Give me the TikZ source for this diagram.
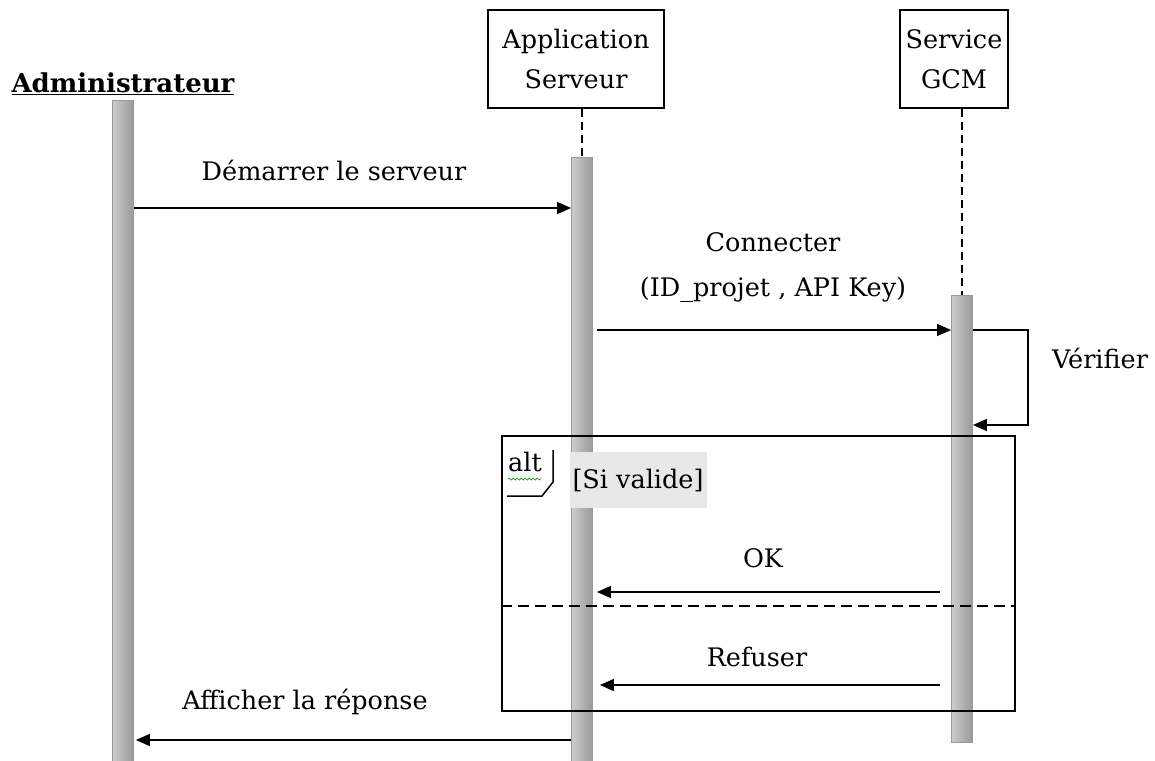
\documentclass[tikz,border=0pt]{standalone}
\usepackage{fontspec}
\setmainfont{DejaVu Serif}
\usetikzlibrary{positioning,arrows.meta,decorations.pathmorphing}

\tikzset{
    txt/.style={font=\fontsize{25.5}{40}\selectfont, inner sep=0pt},
    actor/.style={draw, line width=1.6pt, minimum height=98pt, align=center, txt},
    lifebar/.style={draw=gray!80, line width=0.8pt, minimum width=21pt, inner sep=0pt,
        left color=gray!40, middle color=gray!45, right color=gray!80},
    lifeline/.style={line width=1.5pt, dash pattern=on 8pt off 5pt},
    msg/.style={line width=1.5pt, -{Triangle[length=14pt,width=12pt]}},
}

\begin{document}
\begin{tikzpicture}[x=1pt, y=-1pt]
    \useasboundingbox (0,0) rectangle (1155,760);

    % actors
    \node [txt, font=\fontsize{26}{40}\selectfont\bfseries] (admin) at (123,84) {\underline{Administrateur}};
    \node [actor, minimum width=176pt] (app) at (576,59) {Application\\Serveur};
    \node [actor, minimum width=108pt] (gcm) at (954,59) {Service\\GCM};

    % activation bars
    \node [lifebar, anchor=north, minimum height=665pt] (adminbar) at (123,100) {};
    \node [lifebar, anchor=north, minimum height=610pt] (appbar) at (582,157) {};
    \node [lifebar, anchor=north, minimum height=447pt] (gcmbar) at (962,295) {};

    % dashed lifelines
    \draw [lifeline] (app.south -| appbar.north) -- (appbar.north);
    \draw [lifeline] (gcm.south -| gcmbar.north) -- (gcmbar.north);

    % message heights
    \coordinate (m1) at (0,208);
    \coordinate (m2) at (0,330);
    \coordinate (loopx) at (1028,0);
    \coordinate (m3) at (0,425);
    \coordinate (okst) at (940,592);
    \coordinate (refst) at (940,685);
    \coordinate (m6) at (0,740);

    % messages
    \draw [msg] (adminbar.east |- m1) -- (appbar.west |- m1);
    \node [txt] (start) at (334,170) {Démarrer le serveur};

    \draw [msg] ([xshift=4pt]appbar.east |- m2) -- (gcmbar.west |- m2);
    \node [txt, align=center, font=\fontsize{25.5}{45}\selectfont] (conn) at (773,268) {Connecter\\(ID\_projet , API Key)};

    \draw [msg] (gcmbar.east |- m2) -- (loopx |- m2) -- (loopx |- m3) -- (gcmbar.east |- m3);
    \node [txt] (verif) at (1100,358) {Vérifier};

    % alt fragment
    \node [draw, line width=1.5pt, anchor=north west, minimum width=513pt, minimum height=275pt, inner sep=0pt] (alt) at (501,435) {};
    \draw [line width=1.5pt] (553,450) -- (553,482) -- (542,496) -- (507,496);
    \node [txt] (altlbl) at (525,462) {alt};
    \draw [green!60!black, line width=0.7pt, decorate, decoration={snake, amplitude=1pt, segment length=4pt}] (508,479) -- (541,479);
    \node [txt, fill=gray!18, minimum width=137pt, minimum height=56pt] (guard) at (638,480) {[Si valide]};
    \coordinate (sep) at (0,606);
    \draw [line width=1.5pt, dash pattern=on 11pt off 6pt] (alt.west |- sep) -- (alt.east |- sep);

    \draw [msg] (okst) -- ([xshift=4pt]appbar.east |- okst);
    \node [txt] (ok) at (763,558) {OK};

    \draw [msg] (refst) -- ([xshift=7pt]appbar.east |- refst);
    \node [txt] (refus) at (757,657) {Refuser};

    \draw [msg] (appbar.west |- m6) -- ([xshift=2pt]adminbar.east |- m6);
    \node [txt] (aff) at (305,702) {Afficher la réponse};
\end{tikzpicture}
\end{document}
